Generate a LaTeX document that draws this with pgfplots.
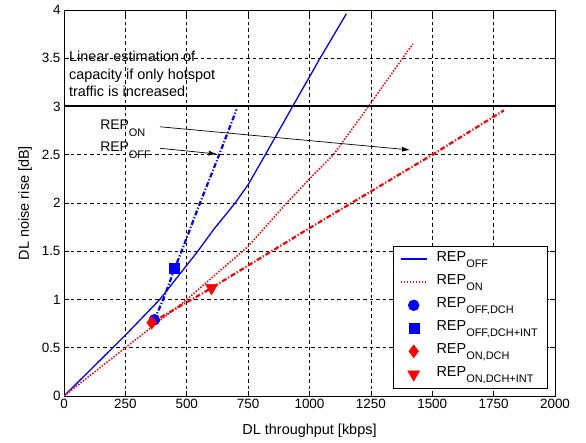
\documentclass[border=0pt]{standalone}
\usepackage{fontspec}
\setmainfont{Liberation Sans}
\usepackage{pgfplots}
\pgfplotsset{compat=1.18}
\usetikzlibrary{arrows.meta}
\newcommand\sub[1]{\raisebox{-6.5bp}{\fontsize{11}{12}\selectfont #1}}
\definecolor{mblue}{RGB}{0,0,255}
\definecolor{mred}{RGB}{255,0,0}
\pgfplotsset{
  limg/.style={legend image code/.code={\draw[#1] (0bp,0bp) -- (26bp,0bp);}},
  mimg/.style={legend image code/.code={\path[#1] plot coordinates {(13bp,0bp)};}},
}
\begin{document}
\begin{tikzpicture}
\begin{axis}[
  scale only axis, width=491bp, height=386bp,
  xmin=0, xmax=2000, ymin=0, ymax=4,
  xtick={0,250,...,2000}, ytick={0,0.5,...,4},
  grid=major,
  major grid style={black, dash pattern=on 3.5bp off 3bp, line width=0.6bp},
  tick align=inside, xtick pos=both, ytick pos=both, major tick length=5bp,
  axis line style={black, line width=0.8bp},
  every tick/.style={black, line width=0.6bp},
  every tick label/.append style={font=\fontsize{13.5}{15}\selectfont},
  label style={font=\fontsize{14.5}{16}\selectfont},
  xlabel style={yshift=-8bp}, ylabel style={yshift=3bp},
  /pgf/number format/assume math mode=true,
  /pgf/number format/1000 sep={},
  xlabel={DL throughput [kbps]}, ylabel={DL noise rise [dB]},
  legend cell align=left,
  legend style={at={(rel axis cs:1,0)}, anchor=south east, xshift=-8bp, yshift=8bp,
    draw=black, fill=white, inner xsep=7bp, inner ysep=2bp, column sep=7bp,
    font=\fontsize{14.5}{16}\selectfont, row sep=0bp,
    nodes={inner sep=2bp, text height=11.5bp, text depth=7.5bp}},
]
% legend series
\addplot[mblue, line width=1.3bp, limg={draw=mblue, line width=1.7bp}] coordinates {
 (0,0) (250,0.63) (390,1.0) (545,1.5) (608,1.72) (697,2.0) (750,2.19) (820,2.5) (931,3.0) (1043,3.5) (1150,3.96)};
\addlegendentry{REP\sub{OFF}}
\addplot[mred, line width=1.5bp, dash pattern=on 1.5bp off 1.5bp, limg={draw=mred, line width=1.7bp, dash pattern=on 1.5bp off 1.5bp}] coordinates {
 (0,0) (250,0.5) (500,1.0) (750,1.55) (907,2.0) (1000,2.25) (1097,2.5) (1240,3.0) (1421,3.65)};
\addlegendentry{REP\sub{ON}}
\addplot[only marks, mark=*, mark size=5.5bp, mblue, mark options={fill=mblue, draw=mblue},
  mimg={only marks, mark=*, mark size=5.5bp, mark options={fill=mblue, draw=mblue}}] coordinates {(368,0.79)};
\addlegendentry{REP\sub{OFF,DCH}}
\addplot[only marks, mark=square*, mark size=5bp, mblue, mark options={fill=mblue, draw=mblue},
  mimg={only marks, mark=square*, mark size=5bp, mark options={fill=mblue, draw=mblue}}] coordinates {(447,1.32)};
\addlegendentry{REP\sub{OFF,DCH+INT}}
\addplot[only marks, mark=diamond*, mark size=6.5bp, mred, mark options={fill=mred, draw=mred},
  mimg={only marks, mark=diamond*, mark size=6.5bp, mark options={fill=mred, draw=mred}}] coordinates {(357,0.76)};
\addlegendentry{REP\sub{ON,DCH}}
\addplot[only marks, mark=triangle*, mark size=7bp, mred, mark options={fill=mred, draw=mred, rotate=180},
  mimg={only marks, mark=triangle*, mark size=7bp, mark options={fill=mred, draw=mred, rotate=180}}] coordinates {(601,1.12)};
\addlegendentry{REP\sub{ON,DCH+INT}}
% dash-dot series (no legend)
\addplot[mblue, line width=2.2bp, dash pattern=on 5bp off 2bp on 1.2bp off 2bp, forget plot] coordinates {
 (368,0.79) (404,1.0) (448,1.3) (506,1.68) (554,2.0) (632,2.5) (703,2.97)};
\addplot[mred, line width=2.2bp, dash pattern=on 5bp off 2bp on 1.2bp off 2bp, forget plot] coordinates {
 (357,0.76) (601,1.12) (1000,1.74) (1250,2.12) (1500,2.5) (1792,2.96)};
% 3 dB limit
\addplot[black, line width=2bp, forget plot] coordinates {(0,3) (2000,3)};
% annotations
\node[anchor=north west, align=left, inner sep=0pt, font=\fontsize{14.5}{17.5}\selectfont]
  at (axis cs:20,3.575) {Linear estimation of\\capacity if only hotspot\\traffic is increased};
\node[anchor=base west, inner sep=0pt, font=\fontsize{14}{15}\selectfont] at (axis cs:147,2.76) {REP\sub{ON}};
\node[anchor=base west, inner sep=0pt, font=\fontsize{14}{15}\selectfont] at (axis cs:147,2.53) {REP\sub{OFF}};
\draw[-{Latex[length=8bp,width=5bp]}, line width=0.7bp] (axis cs:391,2.79) -- (axis cs:1409,2.55);
\draw[-{Latex[length=8bp,width=5bp]}, line width=0.7bp] (axis cs:391,2.567) -- (axis cs:622,2.508);
\end{axis}
\path ([shift={(-64bp,-47bp)}]current axis.south west) rectangle ([shift={(31bp,10bp)}]current axis.north east);
\end{tikzpicture}
\end{document}
